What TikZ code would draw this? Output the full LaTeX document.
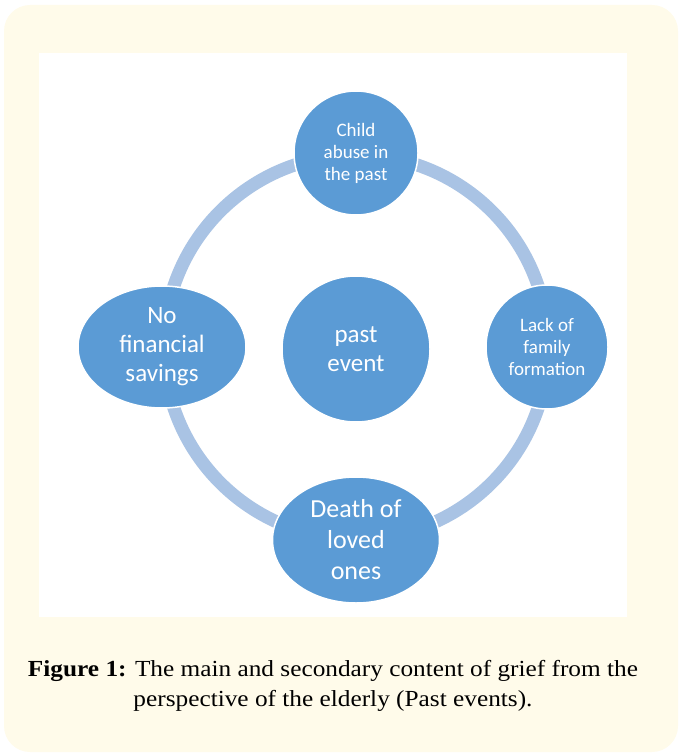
\documentclass[tikz,border=0pt]{standalone}
\usepackage{fontspec}
\setmainfont{Carlito}
\newfontfamily\capfont[FakeStretch=1.1]{Liberation Serif}
\usetikzlibrary{shapes.geometric}

\definecolor{cream}{RGB}{255,251,234}
\definecolor{nodeblue}{RGB}{91,155,213}
\definecolor{ringblue}{RGB}{169,195,228}

\begin{document}
\begin{tikzpicture}[
    x=1pt, y=-1pt, % Work in pixel units, y pointing down
    bubble/.style={ellipse, fill=nodeblue, draw=white, line width=1.5pt, text=white, align=center, inner sep=0pt}, % Blue disc style
    smalltext/.style={font=\fontsize{19}{22}\selectfont}, % Three short lines
    bigtext/.style={font=\fontsize{25}{29}\selectfont}, % Large labels
    ring/.style={draw=ringblue, line width=13pt}, % Cycle ring behind the discs
    captext/.style={align=center, font=\capfont\fontsize{23}{30}\selectfont} % Caption
]

    % Define ring radius
    \def\ringr{192}

    % --- Frame and Panel ---
    \useasboundingbox (0,0) rectangle (680,754);
    \fill[cream, rounded corners=26pt] (4,5) rectangle (678,752);
    \fill[white] (39,53) rectangle (627,617);

    % --- Ring ---
    \coordinate (hub) at (356,347);
    \draw[ring] (hub) circle[radius=\ringr];

    % --- Discs ---
    \node[bubble, smalltext, minimum width=124pt, minimum height=124pt] (abuse) at (356,153) {Child\\abuse in\\the past};
    \node[bubble, smalltext, minimum width=122pt, minimum height=124pt] (family) at (547,347) {Lack of\\family\\formation};
    \node[bubble, bigtext, minimum width=167pt, minimum height=126pt, font=\fontsize{26}{31}\selectfont] (death) at (356,540) {Death of\\loved\\ones};
    \node[bubble, bigtext, minimum width=168pt, minimum height=122pt] (savings) at (162,347) {No\\financial\\savings};
    \node[bubble, bigtext, minimum width=148pt, minimum height=146pt] (past) at (356,349) {past\\event};

    % --- Caption ---
    \node[captext] (caption) at (333,686) {\textbf{Figure 1:} The main and secondary content of grief from the\\perspective of the elderly (Past events).};

\end{tikzpicture}
\end{document}
